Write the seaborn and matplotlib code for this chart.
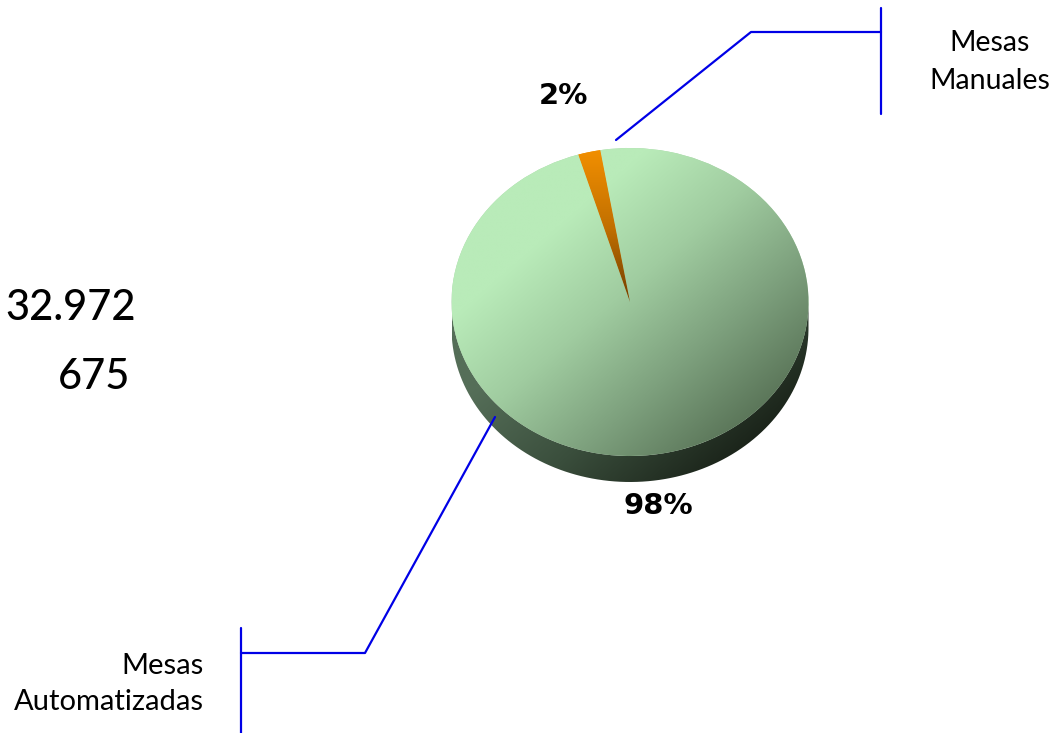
# Mesas automatizadas vs manuales - pie with a fake 3D look
import numpy as np
import matplotlib
matplotlib.use("Agg")
import matplotlib.pyplot as plt
from matplotlib.colors import LinearSegmentedColormap
from matplotlib.patches import PathPatch
from matplotlib.path import Path
import seaborn as sns

categories = ["Mesas\nManuales", "Mesas\nAutomatizadas"]
counts = [675, 32972]
count_labels = ["32.972", "675"]

# pie geometry in image pixels
CX, CY = 630, 302
RX, RY = 178.5, 154
DEPTH = 26
W, H = 1056, 733

sns.set_theme(style="white")
plt.rcParams["font.family"] = ["Lato", "DejaVu Sans"]

fig = plt.figure(figsize=(W / 100, H / 100), dpi=100)
ax = fig.add_axes([0, 0, 1, 1])

wedges, _ = ax.pie(counts, startangle=99.6, radius=1, colors=["#ee8c00", "#a8d4a8"],
                   wedgeprops={"linewidth": 0})
ax.set_aspect("auto")
ax.set_xlim(-CX / RX, (W - CX) / RX)
ax.set_ylim((CY - H) / RY, CY / RY)

depth = DEPTH / RY
xx, yy = np.meshgrid(np.linspace(-1, 1, 300), np.linspace(1, -1 - depth, 300))


def gradient(ax, colors, t, clip, zorder):
    cmap = LinearSegmentedColormap.from_list("grad", colors)
    im = ax.imshow(t, extent=(-1, 1, -1 - depth, 1), cmap=cmap, vmin=0, vmax=1,
                   aspect="auto", zorder=zorder, interpolation="bilinear")
    im.set_clip_path(clip)


# side of the disc
theta = np.linspace(np.pi, 2 * np.pi, 200)
side_pts = np.vstack([
    np.column_stack([np.cos(theta), np.sin(theta) - depth]),
    np.column_stack([np.cos(theta[::-1]), np.sin(theta[::-1])]),
])
side = PathPatch(Path(side_pts), facecolor="none", edgecolor="none", transform=ax.transData)
ax.add_patch(side)
t_side = np.clip((xx + 0.85 - (yy + 0.55)) / 1.9, 0, 1)
gradient(ax, ["#556e58", "#3a4e3c", "#1b241a"], t_side, side, 1)

# top face, one gradient per wedge
t_top = np.clip((xx - yy + 0.9) / 2.4, 0, 1)
gradient(ax, ["#b9ebb9", "#a0cca0", "#7da07d", "#587256"], t_top, wedges[1], 2)
t_or = np.clip((0.97 - yy) / 0.97, 0, 1)
gradient(ax, ["#f08e00", "#c27000", "#703e00"], t_or, wedges[0], 3)
ax.set_xlim(-CX / RX, (W - CX) / RX)
ax.set_ylim((CY - H) / RY, CY / RY)
ax.axis("off")

# overlay in pixel coordinates for labels and leader lines
ov = fig.add_axes([0, 0, 1, 1], facecolor="none")
ov.set_xlim(0, W)
ov.set_ylim(H, 0)
ov.axis("off")

blue = "#0000e6"
ov.plot([616, 751, 881], [140, 32, 32], color=blue, lw=1.6)
ov.plot([881, 881], [8, 114], color=blue, lw=1.6)
ov.plot([495, 365, 241], [417, 653, 653], color=blue, lw=1.6)
ov.plot([241, 241], [628, 733], color=blue, lw=1.6)

ov.text(990, 62, categories[0], ha="center", va="center", fontsize=20.5, color="black", linespacing=1.58)
ov.text(204, 684, categories[1], ha="right", va="center", fontsize=21, color="black", linespacing=1.47)

total = sum(counts)
label_font = ["DejaVu Sans"]
ov.text(563, 96, f"{counts[0] / total:.0%}", ha="center", va="center", fontsize=21,
        fontweight="bold", color="black", family=label_font)
ov.text(658, 506, f"{counts[1] / total:.0%}", ha="center", va="center", fontsize=21,
        fontweight="bold", color="black", family=label_font)

ov.text(136, 308, count_labels[0], ha="right", va="center", fontsize=30, fontweight="medium", color="black")
ov.text(130, 377, count_labels[1], ha="right", va="center", fontsize=30, fontweight="medium", color="black")

fig.savefig("out.png", dpi=100)
